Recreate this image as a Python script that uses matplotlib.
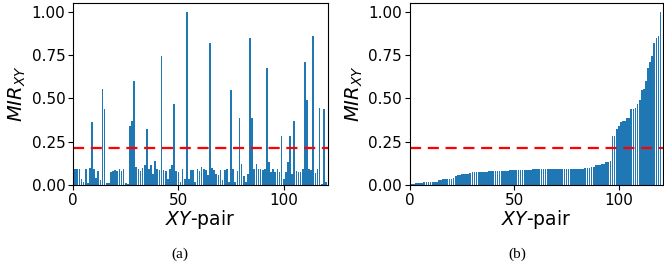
import numpy as np
import matplotlib
matplotlib.use('Agg')
import matplotlib.pyplot as plt

# MIR values for each XY-pair (pairs 1..120)
mir = [0.095, 0.095, 0.09, 0.035, 0.02, 0.09, 0.01, 0.10, 0.366, 0.09,
       0.04, 0.08, 0.03, 0.553, 0.44, 0.01, 0.01, 0.075, 0.08, 0.085,
       0.08, 0.09, 0.08, 0.09, 0.01, 0.005, 0.343, 0.37, 0.60, 0.105,
       0.095, 0.08, 0.10, 0.117, 0.324, 0.095, 0.114, 0.063, 0.14, 0.09,
       0.086, 0.743, 0.086, 0.08, 0.033, 0.095, 0.114, 0.47, 0.08, 0.076,
       0.02, 0.09, 0.033, 1.0, 0.035, 0.086, 0.086, 0.02, 0.095, 0.082,
       0.105, 0.09, 0.086, 0.057, 0.82, 0.10, 0.086, 0.063, 0.057, 0.086,
       0.03, 0.086, 0.095, 0.02, 0.55, 0.09, 0.015, 0.08, 0.385, 0.12,
       0.05, 0.015, 0.063, 0.85, 0.385, 0.095, 0.12, 0.095, 0.09, 0.086,
       0.095, 0.674, 0.13, 0.076, 0.09, 0.076, 0.095, 0.076, 0.285, 0.033,
       0.076, 0.13, 0.28, 0.063, 0.37, 0.08, 0.076, 0.076, 0.095, 0.707,
       0.49, 0.09, 0.086, 0.86, 0.07, 0.09, 0.447, 0.005, 0.438, 0.02]
threshold = 0.215
pairs = np.arange(1, len(mir) + 1)

fig = plt.figure(figsize=(6.64, 2.67), dpi=100)
ax1 = fig.add_axes([0.110, 0.307, 0.384, 0.682])
ax2 = fig.add_axes([0.617, 0.307, 0.381, 0.682])

# (a) original order, (b) sorted ascending
for ax, vals in [(ax1, mir), (ax2, sorted(mir))]:
    ax.bar(pairs, vals, width=0.8, color='#1f77b4')
    ax.axhline(threshold, color='red', linestyle='--', linewidth=1.6, dashes=(5, 3))
    ax.set_xlim(0, 121)
    ax.set_ylim(0, 1.05)
    ax.set_xticks([0, 50, 100])
    ax.set_yticks([0, 0.25, 0.5, 0.75, 1.0])
    ax.set_yticklabels(['0.00', '0.25', '0.50', '0.75', '1.00'])
    ax.tick_params(labelsize=11, length=3.5, pad=2)
    ax.set_xlabel('$XY$-pair', fontsize=13.5, labelpad=0)
    ax.set_ylabel('$MIR_{XY}$', fontsize=14)
    ax.yaxis.set_label_coords(-0.175, 0.5)

fig.text(0.271, 0.035, '(a)', fontsize=11, family='Liberation Serif', ha='center')
fig.text(0.779, 0.035, '(b)', fontsize=11, family='Liberation Serif', ha='center')

fig.savefig('out.png', dpi=100)
